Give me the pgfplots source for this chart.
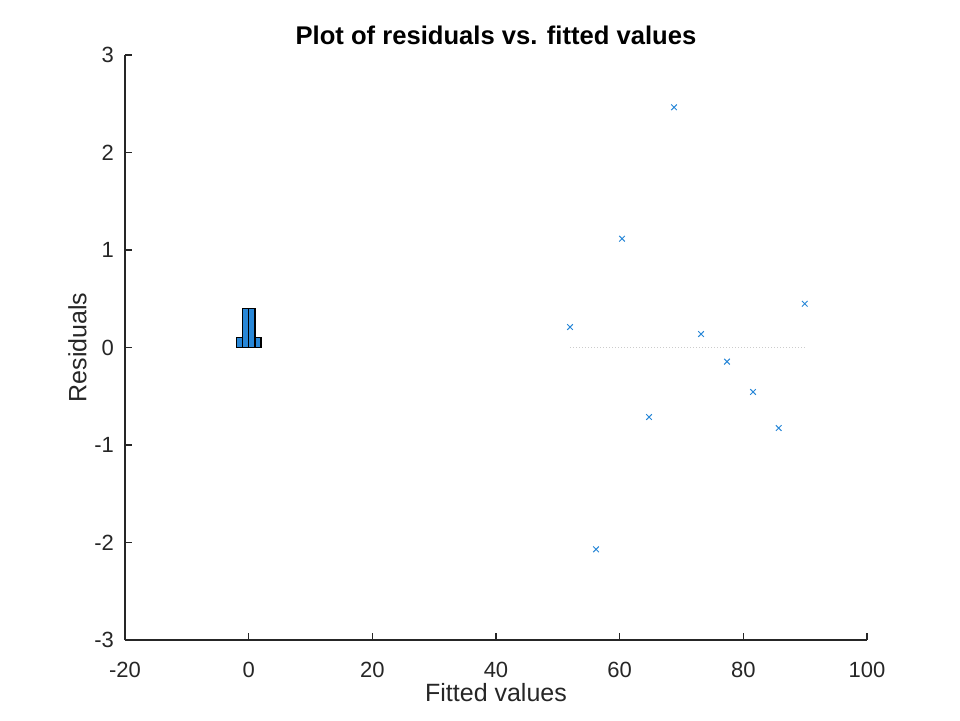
\documentclass[border=0pt]{standalone}
\usepackage{fontspec}
\setmainfont{Liberation Sans}
\usepackage{pgfplots}
\pgfplotsset{compat=1.18}
\definecolor{axgray}{RGB}{38,38,38}
\definecolor{barblue}{RGB}{40,135,215}
\begin{document}
\begin{tikzpicture}
\path[use as bounding box] (0,0) rectangle (480pt,360pt);
\begin{axis}[
    at={(62.5pt,40pt)}, anchor=south west,
    scale only axis,
    width=371pt, height=292.5pt,
    xmin=-20, xmax=100, ymin=-3, ymax=3,
    axis x line*=bottom, axis y line*=left,
    axis line style={axgray, line width=0.6pt},
    tick align=inside,
    major tick length=3.5pt,
    tick style={axgray, line width=0.6pt},
    xtick={-20,0,20,40,60,80,100},
    xticklabels={-20,0,20,40,60,80,100},
    ytick={-3,-2,-1,0,1,2,3},
    yticklabels={-3,-2,-1,0,1,2,3},
    ticklabel style={font=\fontsize{11}{13}\selectfont, text=axgray},
    xticklabel style={yshift=-7.5pt},
    yticklabel style={xshift=-2pt},
    xlabel={Fitted values}, ylabel={Residuals},
    label style={font=\fontsize{12.5}{14}\selectfont, text=axgray},
    xlabel style={yshift=4pt},
    ylabel style={yshift=-3pt},
    title={Plot of residuals vs. fitted values},
    title style={font=\bfseries\fontsize{12.8}{14}\selectfont, text=black, yshift=-4.5pt},
    clip=false,
]
% histogram of residuals near x = 0
\addplot[ybar interval, fill=barblue, draw=black, line width=0.7pt] coordinates {
    (-2,0.1) (-1,0.4) (0,0.4) (1,0.1) (2,0.1)
};
% zero reference line
\addplot[densely dotted, gray!40, line width=0.5pt] coordinates {(52,0) (90,0)};
% residuals vs fitted
\addplot[only marks, mark=x, mark size=2pt, barblue, line width=0.5pt] coordinates {
    (51.97,0.21) (56.18,-2.07) (60.38,1.116) (64.75,-0.713) (68.79,2.464)
    (73.16,0.138) (77.36,-0.145) (81.57,-0.456) (85.72,-0.826) (89.93,0.449)
};
\end{axis}
\end{tikzpicture}
\end{document}
